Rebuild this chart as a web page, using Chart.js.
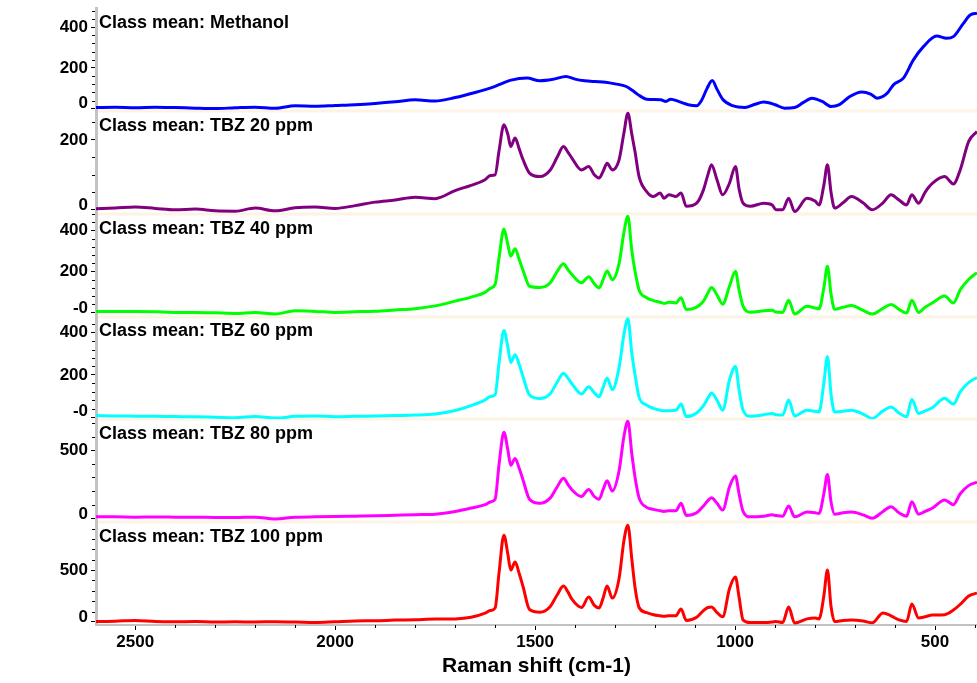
<!DOCTYPE html>
<html>
<head>
<meta charset="utf-8">
<title>Class mean Raman spectra</title>
<script src="https://cdn.jsdelivr.net/npm/chart.js@4.4.1/dist/chart.umd.min.js"></script>
<style>
  html, body { margin: 0; padding: 0; background: #fff; }
  #wrap { width: 977px; height: 683px; position: relative; }
</style>
</head>
<body>
<div id="wrap"><canvas id="spectra"></canvas></div>
<script>
// Raman shift grid (cm-1) for the TBZ class means
const shiftTBZ = [
  2598, 2550, 2500, 2450, 2400, 2350, 2300, 2250, 2200, 2150,
  2100, 2050, 2000, 1950, 1900, 1850, 1800, 1750, 1700, 1660,
  1625, 1612, 1600, 1590, 1578, 1568, 1561, 1550, 1540, 1530,
  1514, 1488, 1462, 1445, 1429, 1418, 1408, 1384, 1366, 1352,
  1340, 1330, 1320, 1307, 1290, 1278, 1268, 1258, 1250, 1240,
  1221, 1204, 1187, 1178, 1165, 1148, 1135, 1122, 1096, 1079,
  1068, 1059, 1045, 1031, 1014, 999, 990, 980, 962, 928,
  907, 898, 881, 866, 851, 820, 800, 790, 778, 769,
  760, 751, 730, 709, 680, 657, 630, 610, 590, 571,
  558, 541, 525, 506, 476, 454, 437, 416, 395
];

const tbz20 = [
  3, 5, 8, 4, 0, 2, -3, -4, 5, -3,
  6, 8, 4, 12, 22, 28, 36, 32, 55, 70,
  86, 98, 100, 170, 243, 215, 181, 205, 175, 143,
  105, 95, 114, 150, 181, 165, 148, 114, 124, 100,
  91, 110, 133, 114, 143, 219, 276, 215, 165, 95,
  52, 38, 48, 33, 43, 38, 48, 10, 19, 57,
  100, 129, 85, 43, 76, 124, 60, 19, 10, 19,
  14, 0, 0, 33, -5, 33, 25, 14, 70, 129,
  50, 5, 20, 38, 20, 0, 20, 43, 28, 14,
  43, 19, 50, 76, 95, 74, 114, 195, 224
];

const tbz40 = [
  5, 4, 4, 3, 0, 0, -2, -5, 0, -8,
  8, 5, 0, 3, 6, 12, 18, 32, 55, 75,
  98, 118, 137, 270, 408, 330, 275, 311, 260, 205,
  128, 122, 145, 200, 238, 210, 185, 145, 174, 140,
  120, 160, 203, 160, 240, 390, 470, 300, 200, 110,
  72, 58, 50, 44, 50, 46, 72, 14, 26, 55,
  95, 122, 85, 40, 128, 201, 110, 31, 1, 8,
  10, 2, 0, 60, -8, 30, 22, 18, 120, 226,
  90, 15, 25, 34, 10, -8, 20, 39, 15, -3,
  60, 0, 25, 47, 80, 46, 110, 161, 195
];

const tbz60 = [
  8, 6, 5, 4, 3, 2, 0, -2, 3, -4,
  4, 6, 2, 4, 6, 8, 10, 15, 32, 55,
  82, 98, 106, 260, 410, 330, 259, 295, 250, 190,
  105, 88, 112, 165, 208, 185, 158, 110, 144, 115,
  97, 140, 185, 130, 235, 390, 465, 300, 200, 95,
  57, 42, 33, 30, 31, 33, 62, 3, 20, 55,
  90, 114, 80, 33, 176, 240, 130, 33, 5, 12,
  18, 12, 10, 81, 6, 33, 28, 25, 160, 287,
  110, 25, 28, 33, 15, -6, 30, 48, 20, 2,
  84, 18, 30, 46, 90, 62, 120, 163, 188
];

const tbz80 = [
  10, 10, 8, 9, 8, 7, 6, 5, 8, -5,
  8, 10, 12, 15, 18, 22, 26, 30, 50, 75,
  100, 120, 140, 400, 632, 500, 390, 440, 370, 280,
  140, 110, 150, 230, 295, 250, 210, 160, 212, 160,
  140, 210, 275, 200, 350, 600, 713, 470, 300, 150,
  80, 65, 55, 50, 55, 55, 110, 20, 40, 90,
  130, 150, 110, 60, 230, 310, 180, 50, 10, 15,
  25, 20, 15, 90, 10, 45, 40, 35, 180, 322,
  120, 30, 40, 45, 25, 0, 50, 85, 40, 15,
  122, 30, 50, 75, 135, 100, 180, 240, 265
];

const tbz100 = [
  5, 8, 15, 5, 3, 4, 0, 2, 0, 3,
  0, -5, 2, 10, 12, 18, 22, 28, 30, 45,
  85, 110, 135, 480, 837, 650, 500, 577, 470, 340,
  120, 95, 150, 260, 346, 290, 220, 140, 240, 160,
  135, 230, 346, 230, 420, 780, 933, 600, 330, 140,
  90, 70, 60, 55, 60, 60, 125, 15, 45, 110,
  140, 144, 90, 50, 320, 433, 240, 20, -5, -5,
  0, 5, -5, 144, -10, 30, 38, 30, 250, 500,
  150, 5, 15, 19, 10, -8, 87, 60, 20, 5,
  173, 38, 50, 67, 70, 115, 170, 250, 279
];

// Methanol blank has its own grid
const shiftMethanol = [
  2598, 2550, 2500, 2450, 2400, 2350, 2300, 2250, 2200, 2150,
  2100, 2050, 2000, 1950, 1900, 1850, 1800, 1750, 1700, 1650,
  1600, 1560, 1520, 1488, 1453, 1423, 1400, 1376, 1350, 1324,
  1300, 1272, 1250, 1238, 1221, 1186, 1173, 1161, 1140, 1117,
  1096, 1083, 1070, 1057, 1045, 1031, 1006, 975, 950, 928,
  900, 876, 851, 830, 808, 782, 760, 739, 713, 683,
  661, 645, 620, 604, 579, 554, 529, 496, 471, 454,
  429, 412, 395
];

const methanol = [
  6, 7, 5, 8, 6, 3, 1, 5, 8, 3,
  15, 12, 16, 20, 26, 34, 44, 38, 55, 80,
  110, 140, 150, 137, 145, 158, 145, 137, 133, 130,
  122, 109, 80, 63, 47, 44, 36, 47, 35, 20,
  15, 44, 100, 138, 95, 47, 15, 6, 22, 33,
  20, 3, 6, 30, 52, 36, 11, 20, 60, 82,
  72, 52, 75, 117, 150, 239, 304, 356, 345, 353,
  418, 459, 467
];

const xTicks = [2500, 2000, 1500, 1000, 500];

// one panel per class, top to bottom
const panels = [
  { id: 'yMeOH', title: 'Class mean: Methanol', shift: shiftMethanol, values: methanol, color: '#0000ff', min: -10, max: 493, major: [0, 200, 400], minor: 40, zero: '0' },
  { id: 'y20', title: 'Class mean: TBZ 20 ppm', shift: shiftTBZ, values: tbz20, color: '#800080', min: -11, max: 283, major: [0, 200], minor: 50, zero: '0' },
  { id: 'y40', title: 'Class mean: TBZ 40 ppm', shift: shiftTBZ, values: tbz40, color: '#00ff00', min: -20, max: 483, major: [0, 200, 400], minor: 40, zero: '-0' },
  { id: 'y60', title: 'Class mean: TBZ 60 ppm', shift: shiftTBZ, values: tbz60, color: '#00ffff', min: -10, max: 476, major: [0, 200, 400], minor: 40, zero: '-0' },
  { id: 'y80', title: 'Class mean: TBZ 80 ppm', shift: shiftTBZ, values: tbz80, color: '#ff00ff', min: -29, max: 728, major: [0, 500], minor: 100, zero: '0' },
  { id: 'y100', title: 'Class mean: TBZ 100 ppm', shift: shiftTBZ, values: tbz100, color: '#ff0000', min: -29, max: 962, major: [0, 500], minor: 100, zero: '0' }
];

const FONT = '"Liberation Sans", Arial, sans-serif';
Chart.defaults.font.family = FONT;
Chart.defaults.color = '#000';

const axisGray = '#c3c3c3';

const scales = {
  x: {
    type: 'linear',
    reverse: true,
    min: 395,
    max: 2598,
    afterBuildTicks: s => { s.ticks = xTicks.map(v => ({ value: v })); },
    afterFit: s => { s.height = 58; },
    border: { color: axisGray, width: 2 },
    grid: { drawOnChartArea: false, tickLength: 5, tickColor: '#000', tickWidth: 1 },
    ticks: { color: '#000', font: { size: 17, weight: 'bold' }, padding: 2, maxRotation: 0, callback: v => String(v) },
    title: { display: true, text: 'Raman shift (cm-1)', color: '#000', font: { size: 21, weight: 'bold' }, padding: { top: 0, bottom: 4 } }
  }
};

// stacked left axes are laid out last-defined-on-top, so add them bottom-up
[...panels].reverse().forEach(p => {
  scales[p.id] = {
    type: 'linear',
    position: 'left',
    stack: 'panels',
    stackWeight: 1,
    min: p.min,
    max: p.max,
    afterBuildTicks: s => { s.ticks = p.major.map(v => ({ value: v })); },
    afterFit: s => { s.width = 96; },
    border: { color: axisGray, width: 3 },
    grid: { drawOnChartArea: false, tickLength: 5, tickColor: '#000', tickWidth: 1 },
    ticks: { display: false }
  };
});

// separators, minor ticks, tick labels and panel titles
const panelDecor = {
  id: 'panelDecor',
  beforeDatasetsDraw(chart) {
    const { ctx, chartArea } = chart;
    ctx.save();
    ctx.strokeStyle = '#fcf3e4';
    ctx.lineWidth = 3;
    panels.forEach((p, i) => {
      if (i === 0) return;
      const y = Math.round(chart.scales[p.id].top);
      ctx.beginPath();
      ctx.moveTo(chartArea.left + 2, y);
      ctx.lineTo(chartArea.right, y);
      ctx.stroke();
    });
    ctx.restore();
  },
  afterDraw(chart) {
    const { ctx, chartArea } = chart;
    const xs = chart.scales.x;
    ctx.save();
    ctx.strokeStyle = '#000';
    ctx.lineWidth = 1;

    // x minor ticks every 100 cm-1
    ctx.beginPath();
    for (let v = 400; v <= 2500; v += 100) {
      if (v % 500 === 0) continue;
      const px = Math.round(xs.getPixelForValue(v)) + 0.5;
      ctx.moveTo(px, xs.top);
      ctx.lineTo(px, xs.top + 3);
    }
    ctx.stroke();

    ctx.fillStyle = '#000';
    panels.forEach(p => {
      const s = chart.scales[p.id];
      ctx.beginPath();
      for (let v = Math.ceil(p.min / p.minor) * p.minor; v <= p.max; v += p.minor) {
        if (p.major.includes(v)) continue;
        const py = Math.round(s.getPixelForValue(v)) + 0.5;
        ctx.moveTo(s.right - 4, py);
        ctx.lineTo(s.right - 1, py);
      }
      ctx.stroke();

      // tick labels, kept inside their own panel
      ctx.font = 'bold 17px ' + FONT;
      ctx.textAlign = 'right';
      ctx.textBaseline = 'middle';
      p.major.forEach(v => {
        let py = s.getPixelForValue(v);
        py = Math.max(s.top + 8, Math.min(s.bottom - 8, py));
        ctx.fillText(v === 0 ? p.zero : String(v), s.right - 8, py);
      });

      ctx.textAlign = 'left';
      ctx.font = 'bold 18px ' + FONT;
      ctx.fillText(p.title, chartArea.left + 3, s.top + 15);
    });
    ctx.restore();
  }
};

new Chart(document.getElementById('spectra'), {
  type: 'line',
  data: {
    datasets: panels.map(p => ({
      label: p.title,
      data: p.shift.map((s, i) => ({ x: s, y: p.values[i] })),
      xAxisID: 'x',
      yAxisID: p.id,
      borderColor: p.color,
      borderWidth: 3,
      pointRadius: 0,
      cubicInterpolationMode: 'monotone',
      borderJoinStyle: 'round',
      fill: false
    }))
  },
  options: {
    responsive: true,
    maintainAspectRatio: false,
    animation: false,
    events: [],
    layout: { padding: { top: 8, right: 0, bottom: 0, left: 0 } },
    plugins: { legend: { display: false }, tooltip: { enabled: false } },
    scales
  },
  plugins: [panelDecor]
});
</script>
</body>
</html>
